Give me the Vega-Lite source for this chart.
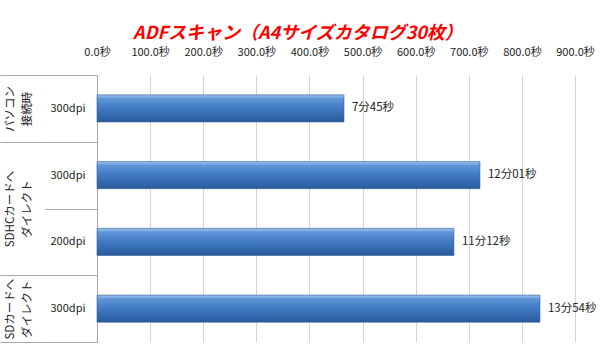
{
  "$schema": "https://vega.github.io/schema/vega-lite/v6.json",
  "autosize": "none",
  "width": 478,
  "height": 267,
  "padding": {"left": 97, "top": 75, "right": 25, "bottom": 11},
  "background": "#ffffff",
  "config": {
    "view": {"stroke": null},
    "font": "Noto Sans CJK JP",
    "axisY": {"grid": false}
  },
  "title": {
    "text": "ADFスキャン（A4サイズカタログ30枚）",
    "color": "#ff0000",
    "fontSize": 18,
    "fontStyle": "italic",
    "fontWeight": "bold",
    "font": "Noto Sans CJK JP",
    "anchor": "middle",
    "frame": "bounds",
    "offset": 3
  },
  "data": {
    "values": [
      {"group": "パソコン接続時", "dpi": "300dpi", "key": "パソコン接続時/300dpi", "seconds": 465, "label": "7分45秒"},
      {"group": "SDHCカードへダイレクト", "dpi": "300dpi", "key": "SDHCカードへダイレクト/300dpi", "seconds": 721, "label": "12分01秒"},
      {"group": "SDHCカードへダイレクト", "dpi": "200dpi", "key": "SDHCカードへダイレクト/200dpi", "seconds": 672, "label": "11分12秒"},
      {"group": "SDカードへダイレクト", "dpi": "300dpi", "key": "SDカードへダイレクト/300dpi", "seconds": 834, "label": "13分54秒"}
    ]
  },
  "layer": [
    {
      "layer": [
        {
          "mark": {
            "type": "bar",
            "height": {"band": 0.405},
            "stroke": "#2b5b96",
            "strokeWidth": 0.6,
            "color": {
              "gradient": "linear",
              "x1": 0, "y1": 0, "x2": 0, "y2": 1,
              "stops": [
                {"offset": 0, "color": "#a3c6ef"},
                {"offset": 0.14, "color": "#5f96d8"},
                {"offset": 0.5, "color": "#4079c3"},
                {"offset": 1, "color": "#2a5b9b"}
              ]
            }
          },
          "encoding": {
            "y": {
              "field": "key", "type": "nominal", "sort": null,
              "scale": {"paddingInner": 0, "paddingOuter": 0},
              "axis": {
                "orient": "left",
                "title": null,
                "labelExpr": "split(datum.label, '/')[1]",
                "tickBand": "extent",
                "tickSize": 52,
                "tickColor": "#a6a6a6",
                "domainColor": "#a6a6a6",
                "labelPadding": -40,
                "labelAlign": "right",
                "labelFontSize": 11,
                "labelColor": "#222222"
              }
            },
            "x": {
              "field": "seconds", "type": "quantitative",
              "scale": {"domain": [0, 900], "nice": false},
              "axis": {
                "orient": "top",
                "title": null,
                "values": [0, 100, 200, 300, 400, 500, 600, 700, 800, 900],
                "format": ".1f",
                "labelExpr": "datum.label + '秒'",
                "labelOverlap": false,
                "labelBound": false,
                "labelFlush": false,
                "domain": false,
                "ticks": false,
                "grid": true,
                "gridColor": "#d4d4d4",
                "labelPadding": 18,
                "labelFontSize": 11,
                "labelColor": "#222222"
              }
            }
          }
        },
        {
          "mark": {"type": "text", "align": "left", "dx": 8, "fontSize": 11.5, "color": "#222222"},
          "encoding": {
            "y": {"field": "key", "type": "nominal", "sort": null},
            "x": {"field": "seconds", "type": "quantitative"},
            "text": {"field": "label"}
          }
        }
      ]
    },
    {
      "mark": {"type": "point", "opacity": 0},
      "encoding": {
        "y": {
          "datum": 0, "type": "quantitative",
          "scale": {"domain": [0, 4], "reverse": true, "nice": false, "zero": false},
          "axis": {
            "orient": "left",
            "title": null,
            "values": [0.5, 2, 3.5],
            "labelExpr": "datum.value == 0.5 ? ['パソコン', '接続時'] : datum.value == 2 ? ['SDHCカードへ', 'ダイレクト'] : ['SDカードへ', 'ダイレクト']",
            "ticks": false,
            "domain": false,
            "grid": false,
            "offset": 52,
            "labelAngle": -90,
            "labelAlign": "center",
            "labelBaseline": "middle",
            "labelPadding": 35,
            "labelFontSize": 11.5,
            "labelLineHeight": 17,
            "labelColor": "#222222",
            "labelOverlap": false,
            "labelBound": false,
            "labelFlush": false
          }
        }
      }
    },
    {
      "mark": {"type": "point", "opacity": 0},
      "encoding": {
        "y": {
          "datum": 0, "type": "quantitative",
          "scale": {"domain": [0, 4], "reverse": true, "nice": false, "zero": false},
          "axis": {
            "orient": "left",
            "title": null,
            "values": [0, 1, 3, 4],
            "labels": false,
            "tickSize": 45,
            "tickColor": "#a6a6a6",
            "domain": false,
            "grid": false,
            "offset": 52
          }
        }
      }
    }
  ],
  "resolve": {"scale": {"y": "independent"}, "axis": {"y": "independent"}}
}
